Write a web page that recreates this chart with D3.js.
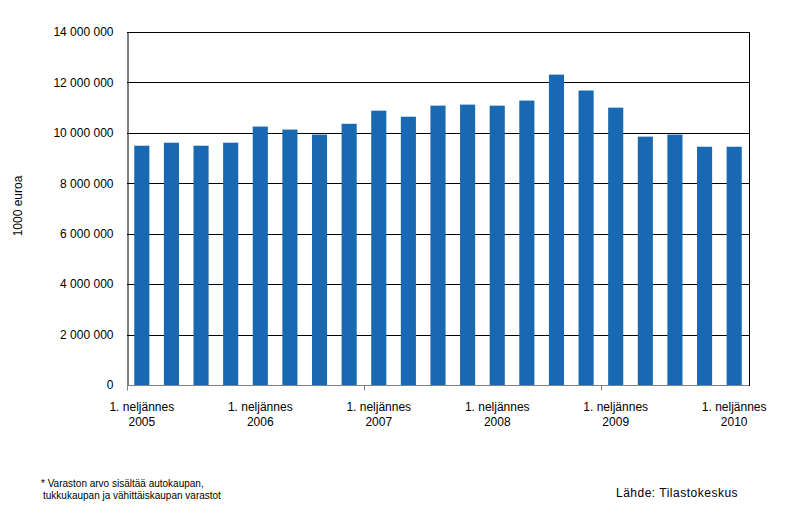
<!DOCTYPE html>
<html><head><meta charset="utf-8">
<script src="https://cdn.jsdelivr.net/npm/d3@7"></script>
<style>body{margin:0;background:#fff}svg{display:block;font-family:"Liberation Sans",Arial,sans-serif}</style>
</head><body>
<script>
const quarters = ["2005Q1","2005Q2","2005Q3","2005Q4","2006Q1","2006Q2","2006Q3","2006Q4","2007Q1","2007Q2","2007Q3","2007Q4","2008Q1","2008Q2","2008Q3","2008Q4","2009Q1","2009Q2","2009Q3","2009Q4","2010Q1"];
const values = [9490000,9610000,9490000,9610000,10250000,10130000,9930000,10360000,10880000,10640000,11080000,11120000,11080000,11280000,12310000,11680000,11000000,9850000,9930000,9450000,9450000];
const yTicks = [0,2000000,4000000,6000000,8000000,10000000,12000000,14000000];
const labelYears = {"2005Q1":"2005","2006Q1":"2006","2007Q1":"2007","2008Q1":"2008","2009Q1":"2009","2010Q1":"2010"};
const tickIndices = [0,8,16];

const W=803,H=531;
const m={l:127,r:54,t:32,b:146};
const svg=d3.select("body").append("svg").attr("width",W).attr("height",H);
const x=d3.scaleBand().domain(quarters).range([m.l,W-m.r]).paddingInner(0.49).paddingOuter(0.245);
const y=d3.scaleLinear().domain([0,14000000]).range([H-m.b,m.t]);
const fmt=v=>d3.format(",")(v).replace(/,/g," ");

// gridlines
svg.append("g").selectAll("line").data(yTicks.filter(d=>d>0)).join("line")
 .attr("x1",m.l).attr("x2",W-m.r).attr("y1",d=>Math.round(y(d))+0.5).attr("y2",d=>Math.round(y(d))+0.5)
 .attr("stroke","#000").attr("stroke-width",1);
// right border
svg.append("line").attr("x1",W-m.r+0.5).attr("x2",W-m.r+0.5).attr("y1",Math.round(y(14000000))).attr("y2",Math.round(y(0))+1).attr("stroke","#000");

// bars
svg.append("g").selectAll("rect").data(values).join("rect")
 .attr("x",(d,i)=>x(quarters[i])).attr("width",x.bandwidth())
 .attr("y",d=>y(d)).attr("height",d=>y(0)-y(d)).attr("fill","#1869b1");

// y axis
const ya=svg.append("g").attr("transform",`translate(${m.l+0.5},0)`)
 .call(d3.axisLeft(y).tickValues(yTicks).tickFormat(fmt).tickSize(0).tickPadding(14));
ya.select(".domain").attr("stroke","#000");
ya.selectAll("text").attr("font-size","12px").attr("fill","#000").attr("font-family","Liberation Sans, Arial, sans-serif");

// x axis
const y0=Math.round(y(0))+0.5;
svg.append("line").attr("x1",m.l).attr("x2",W-m.r).attr("y1",y0).attr("y2",y0).attr("stroke","#808080");
const step=x.step();
svg.append("g").selectAll("line").data(tickIndices).join("line")
 .attr("x1",d=>Math.round(m.l+d*step)+0.5).attr("x2",d=>Math.round(m.l+d*step)+0.5)
 .attr("y1",y0).attr("y2",y0+5).attr("stroke","#808080");
const lab=svg.append("g").selectAll("text").data(quarters.filter(q=>labelYears[q])).join("text")
 .attr("x",q=>x(q)+x.bandwidth()/2).attr("y",411).attr("text-anchor","middle")
 .attr("font-size","12px").attr("fill","#000");
lab.append("tspan").attr("x",q=>x(q)+x.bandwidth()/2).text("1. neljännes");
lab.append("tspan").attr("x",q=>x(q)+x.bandwidth()/2).attr("dy",15).text(q=>labelYears[q]);

// y title
svg.append("text").attr("transform","translate(22,206) rotate(-90)").attr("text-anchor","middle")
 .attr("font-size","12px").text("1000 euroa");

// footnotes
svg.append("text").attr("x",41).attr("y",487).attr("font-size","10px").text("* Varaston arvo sisältää autokaupan,");
svg.append("text").attr("x",43).attr("y",499).attr("font-size","10px").text("tukkukaupan ja vähittäiskaupan varastot");
svg.append("text").attr("x",616).attr("y",497).attr("font-size","12px").attr("letter-spacing","0.5px").text("Lähde: Tilastokeskus");
</script>
</body></html>
